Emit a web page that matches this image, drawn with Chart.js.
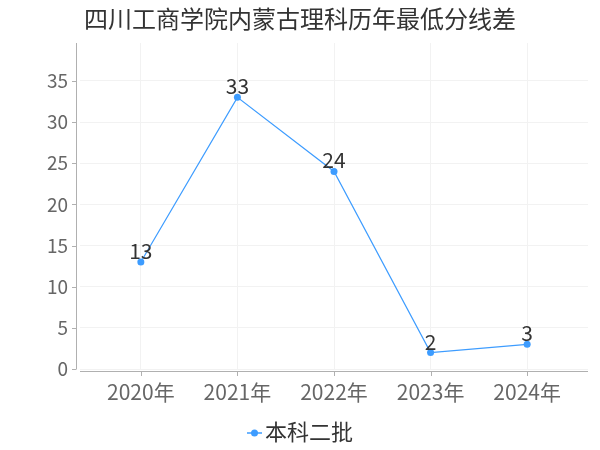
<!DOCTYPE html>
<html><head><meta charset="utf-8">
<script src="https://cdn.jsdelivr.net/npm/chart.js@4/dist/chart.umd.min.js"></script>
<style>html,body{margin:0;padding:0;background:#fff}#wrap{width:600px;height:450px;position:relative}</style>
</head><body><div id="wrap"><canvas id="c" width="600" height="450"></canvas></div>
<script>
const titleText = "四川工商学院内蒙古理科历年最低分线差";
const categories = ["2020年","2021年","2022年","2023年","2024年"];
const seriesName = "本科二批";
const values = [13, 33, 24, 2, 3];
const yTicks = [0,5,10,15,20,25,30,35];

const FONT = '"Noto Sans CJK SC", "Noto Sans", sans-serif';
const LINE = '#3d9cff';

const extras = {
  id:'extras',
  afterDraw(chart){
    const ctx=chart.ctx, a=chart.chartArea;
    ctx.save();
    ctx.strokeStyle='#b0b0b0'; ctx.lineWidth=1;
    ctx.beginPath(); ctx.moveTo(a.left-3.5, a.top); ctx.lineTo(a.left-3.5, a.bottom); ctx.stroke();
    ctx.beginPath(); ctx.moveTo(a.left, a.bottom+2.5); ctx.lineTo(a.right, a.bottom+2.5); ctx.stroke();
    const ys=chart.scales.y, xs=chart.scales.x;
    yTicks.forEach(v=>{const y=Math.round(ys.getPixelForValue(v))+0.5;ctx.beginPath();ctx.moveTo(a.left-8,y);ctx.lineTo(a.left-3.5,y);ctx.stroke();});
    categories.forEach((c,i)=>{const x=Math.round(xs.getPixelForValue(i))+0.5;ctx.beginPath();ctx.moveTo(x,a.bottom+2.5);ctx.lineTo(x,a.bottom+7);ctx.stroke();});
    // title
    ctx.fillStyle='#333'; ctx.font='24px '+FONT; ctx.textAlign='center'; ctx.textBaseline='middle';
    ctx.fillText(titleText, 300, 19);
    // data labels
    const meta=chart.getDatasetMeta(0);
    ctx.font='21px '+FONT; ctx.fillStyle='#333'; ctx.textBaseline='alphabetic';
    meta.data.forEach((p,i)=>{ctx.fillText(String(values[i]), p.x, p.y-3);});
    // legend
    const ly=433;
    ctx.strokeStyle=LINE; ctx.lineWidth=1.5;
    ctx.beginPath(); ctx.moveTo(247,ly); ctx.lineTo(262,ly); ctx.stroke();
    ctx.fillStyle=LINE; ctx.beginPath(); ctx.arc(254.5,ly,3.5,0,Math.PI*2); ctx.fill();
    ctx.fillStyle='#333'; ctx.font='22px '+FONT; ctx.textAlign='left'; ctx.textBaseline='middle';
    ctx.fillText(seriesName, 265, ly-1);
    ctx.restore();
  }
};

new Chart(document.getElementById('c'), {
  type:'line',
  data:{datasets:[{label:seriesName,data:values.map((v,i)=>({x:i,y:v})),borderColor:LINE,backgroundColor:LINE,borderWidth:1.2,pointRadius:3.5,pointHoverRadius:3.5,pointStyle:'circle',pointBackgroundColor:LINE,pointBorderWidth:0,tension:0}]},
  plugins:[extras],
  options:{
    responsive:false, animation:false,
    layout:{padding:{top:43,right:12,left:0,bottom:39}},
    plugins:{ legend:{display:false}, tooltip:{enabled:false}, title:{display:false} },
    scales:{
      x:{type:'linear',min:-0.63,max:4.63,
        afterBuildTicks(s){s.ticks=categories.map((c,i)=>({value:i}));},
        afterFit(s){s.height=42;},
        grid:{color:'#f2f2f2',drawTicks:false},border:{display:false},
        ticks:{callback:(v)=>categories[v],color:'#666',font:{family:FONT,size:21},padding:10,maxRotation:0,autoSkip:false}},
      y:{min:0,max:39.6,
        afterBuildTicks(s){s.ticks=yTicks.map(v=>({value:v}));},
        afterFit(s){s.width=80;},
        grid:{color:'#f2f2f2',drawTicks:false},border:{display:false},
        ticks:{color:'#666',font:{family:FONT,size:19},padding:12}}
    }
  }
});
</script></body></html>
